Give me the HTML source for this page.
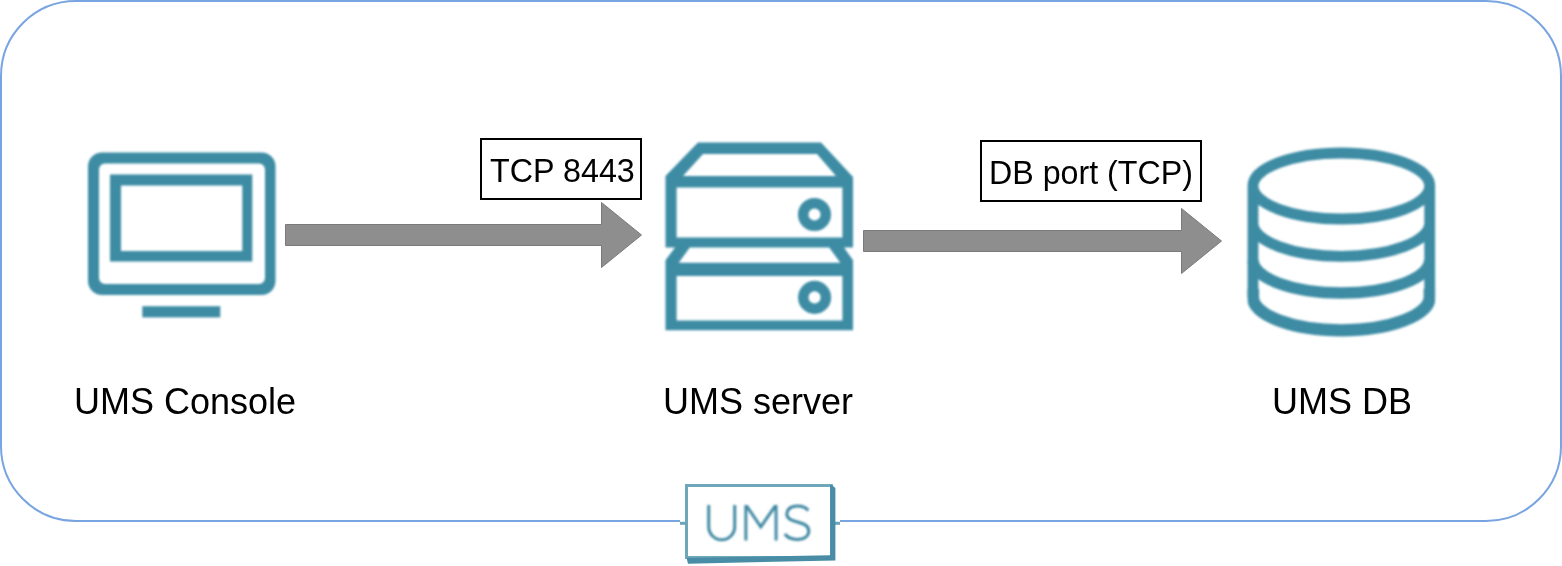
<!DOCTYPE html>
<html>
<head>
<meta charset="utf-8">
<style>
html,body{margin:0;padding:0;background:#fff;}
body{width:1562px;height:566px;position:relative;overflow:hidden;font-family:"Liberation Sans",sans-serif;}
.t{position:absolute;white-space:nowrap;color:#000;line-height:1;will-change:transform;}
.lbl{font-size:36px;transform:scaleY(1.02);transform-origin:0 30.5px;}
.box{position:absolute;box-sizing:border-box;border:2px solid #000;background:#fff;}
.bt{font-size:32.3px;transform:scaleY(1.04);transform-origin:0 27.3px;}
svg{position:absolute;left:0;top:0;}
</style>
</head>
<body>
<svg width="1562" height="566" viewBox="0 0 1562 566">
  <defs><filter id="soft" x="-5%" y="-5%" width="110%" height="110%"><feGaussianBlur stdDeviation="0.9"/></filter><filter id="soft2" x="-5%" y="-5%" width="110%" height="110%"><feGaussianBlur stdDeviation="0.65"/></filter></defs>
  <!-- outer rounded frame -->
  <rect x="1" y="1" width="1560" height="520" rx="75" ry="75" fill="none" stroke="#78a4e1" stroke-width="2"/>
  <!-- logo gap -->
  <rect x="680" y="515" width="160" height="51" fill="#fff"/>

  <!-- monitor icon -->
  <g fill="#3c8ca4" fill-rule="evenodd" filter="url(#soft)">
    <path d="M102,152.5 H261.5 A14,14 0 0 1 275.5,166.5 V281 A14,14 0 0 1 261.5,295 H102 A14,14 0 0 1 88,281 V166.5 A14,14 0 0 1 102,152.5 Z
             M105,163.5 A6,6 0 0 0 99,169.5 V278 A6,6 0 0 0 105,284 H259 A6,6 0 0 0 265,278 V169.5 A6,6 0 0 0 259,163.5 Z"/>
    <path d="M110,174.4 H252.3 V261.5 H110 Z M121,185.6 V251 H242.3 V185.6 Z"/>
    <rect x="142.3" y="306.2" width="78" height="11.2"/>
  </g>

  <!-- server icon -->
  <g filter="url(#soft)"><g fill="#3c8ca4" fill-rule="evenodd">
    <path d="M698,142.6 L821,142.6 L853,177 L853,247.4 L665.5,247.4 L665.5,176 Z
             M703,154 L817,154 L836,176 L683,176 Z
             M676.6,187.4 L842.4,187.4 L842.4,237.4 L676.6,237.4 Z
             M675,247.4 L844,247.4 L853,260.3 L853,330.2 L665.5,330.2 L665.5,260.3 Z
             M689.8,247.4 L829.2,247.4 L840.3,262.8 L678.7,262.8 Z
             M676.6,276 L842.4,276 L842.4,320.4 L676.6,320.4 Z"/>
  </g>
  <g fill="none" stroke="#3c8ca4" stroke-width="10.5">
    <circle cx="814.5" cy="214.5" r="11.3"/>
    <circle cx="814.6" cy="297.4" r="11.3"/>
  </g></g>

  <!-- DB icon -->
  <g filter="url(#soft)">
  <path fill="none" stroke="#3c8ca4" stroke-width="10.8" d="M1253,186 A88.35,33 0 0 1 1429.7,186 A88.35,33 0 0 1 1253,186 Z M1253,186 V297 M1429.7,186 V297 M1253,223.3 A88.35,33 0 0 0 1429.7,223.3"/>
  <clipPath id="dbc"><rect x="1247.6" y="150" width="187.5" height="200"/></clipPath>
  <path clip-path="url(#dbc)" fill="none" stroke="#3c8ca4" stroke-width="11.6" d="M1253,260 A88.35,33 0 0 0 1429.7,260"/>
  <path clip-path="url(#dbc)" fill="none" stroke="#3c8ca4" stroke-width="12.2" d="M1253,289 V297 A88.35,33.3 0 0 0 1429.7,297 V289"/>

  </g>
  <!-- arrows -->
  <path d="M285.5,224.5 H601.5 V202.5 L641.5,235 L601.5,267.5 V245.5 H285.5 Z" fill="#8e8e8e" stroke="#7a7a7a" stroke-width="1"/>
  <path d="M863.5,230.5 H1181.5 V208.5 L1221.5,241 L1181.5,273.5 V251.5 H863.5 Z" fill="#8e8e8e" stroke="#7a7a7a" stroke-width="1"/>

  <!-- UMS logo -->
  <g>
    <rect x="680" y="521.8" width="6" height="3" fill="#6ba5b9"/>
    <rect x="834" y="521.8" width="6" height="3" fill="#6ba5b9"/>
    <rect x="686.5" y="485.5" width="145" height="72" fill="#fff" stroke="#6ba5b9" stroke-width="2.9"/>
    <path d="M830.2,485 L831.8,485 L835.4,488 L835.4,560.5 L688,563.7 L686.8,559 L686.8,558 L830.2,555.2 Z" fill="#488da5"/>
    <g filter="url(#soft)"><g fill="none" stroke="#3f88a2" stroke-width="3">
      <path d="M708.7,504.9 V526.8 A13,13 0 0 0 734.7,526.8 V504.9"/>
      <path d="M808.3,510.5 C805.5,507 801.5,506 797.5,506 C790,506 786.8,510 786.8,514 C786.8,524.5 808.8,519.5 808.8,531 C808.8,536 804.5,539.4 797,539.4 C792,539.4 787.5,537.5 784.8,534"/>
    </g>
    <path fill="#3f88a2" d="M744.4,540.6 V504.9 H747.7 L760.8,524.2 L774.1,504.9 H777.5 V540.6 H774.6 V509.5 L760.8,529.4 L747.3,509.5 V540.6 Z"/>
    </g>
  </g>
</svg>

<div class="box" style="left:480px;top:138px;width:162px;height:62px;"></div>
<div class="t bt" style="left:490px;top:155px;">TCP 8443</div>
<div class="box" style="left:980px;top:140px;width:222px;height:62px;"></div>
<div class="t bt" style="left:988.8px;top:156.5px;font-size:32.2px;">DB port (TCP)</div>

<div class="t lbl" style="left:74px;top:383.6px;">UMS Console</div>
<div class="t lbl" style="left:663px;top:383.6px;">UMS server</div>
<div class="t lbl" style="left:1272px;top:383.6px;">UMS DB</div>
</body>
</html>
